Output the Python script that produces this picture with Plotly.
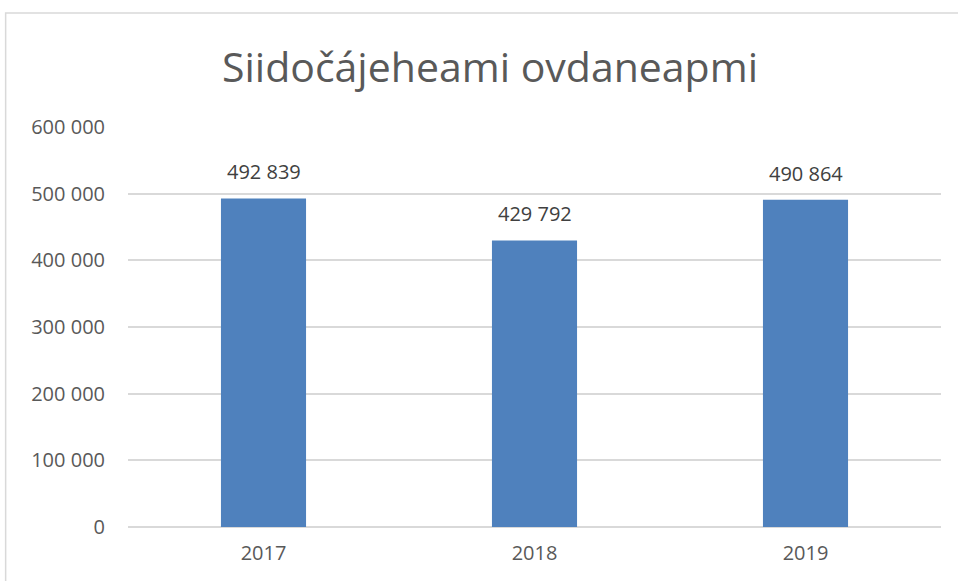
import plotly.graph_objects as go

years = ["2017", "2018", "2019"]
values = [492839, 429792, 490864]
tick_vals = [0, 100000, 200000, 300000, 400000, 500000, 600000]
tick_text = ["0", "100 000", "200 000", "300 000", "400 000", "500 000", "600 000"]
labels = [f"{v:,}".replace(",", " ") for v in values]

fig = go.Figure(go.Bar(
    x=years, y=values,
    marker=dict(color="#4f81bd", line=dict(width=0)),
    hoverinfo="x+y",
))

# category axis: annotation x given as category index
for i, (v, lab) in enumerate(zip(values, labels)):
    fig.add_annotation(x=i, y=v, xref="x", yref="y", text=lab, showarrow=False,
                       yanchor="bottom", yshift=11,
                       font=dict(family="Open Sans", size=20, color="#404040"))

fig.update_layout(
    width=958, height=581,
    margin=dict(l=128, r=17, t=127, b=54),
    paper_bgcolor="white", plot_bgcolor="white",
    bargap=0.686,
    showlegend=False,
    title=dict(text="Siidočájeheami ovdaneapmi", x=0.5115, xanchor="center",
               y=0.883, yanchor="middle",
               font=dict(family="Open Sans", size=41, color="#595959")),
    font=dict(family="Open Sans", size=20, color="#595959"),
    xaxis=dict(type="category", range=[-0.5, 2.5], showgrid=False, showline=False, ticks="",
               ticklabelstandoff=12,
               tickfont=dict(size=20, color="#595959")),
    yaxis=dict(range=[0, 600000], tickvals=tick_vals, ticktext=tick_text,
               showgrid=True, gridcolor="#d9d9d9", gridwidth=1.5, zeroline=True,
               zerolinecolor="#d9d9d9", zerolinewidth=1.5,
               showline=False, ticks="", ticklabelstandoff=22,
               tickfont=dict(size=20, color="#595959")),
    shapes=[dict(type="rect", xref="paper", yref="paper",
                 x0=-0.1505, x1=1.1, y0=-0.2, y1=1.285,
                 line=dict(color="#d9d9d9", width=1.5), fillcolor="rgba(0,0,0,0)", layer="below")],
)

fig.write_html("out.html", config={"displayModeBar": False},
               post_script="document.body.style.margin='0px';")
